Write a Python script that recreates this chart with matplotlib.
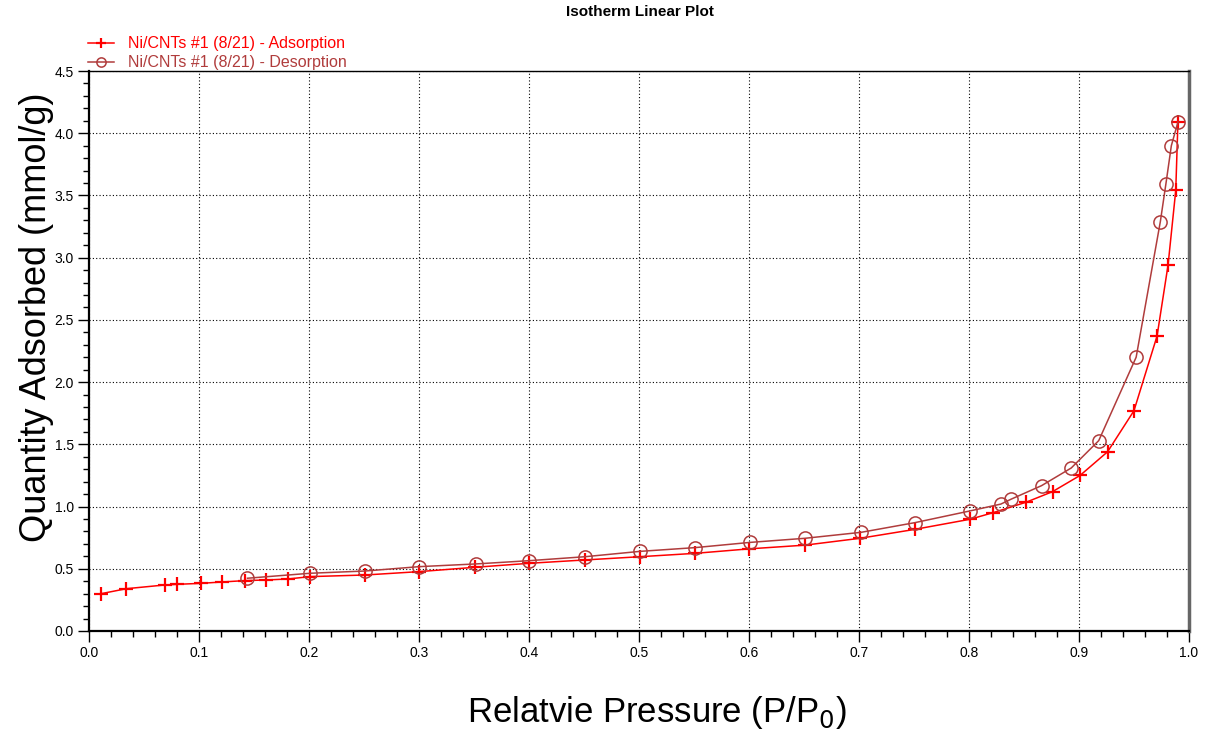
import matplotlib
matplotlib.use('Agg')
import matplotlib.pyplot as plt
from matplotlib.ticker import MultipleLocator, FormatStrFormatter

plt.rcParams['font.family'] = ['Liberation Sans', 'DejaVu Sans']

# adsorption branch (relative pressure, mmol/g)
ads_p = [0.011, 0.034, 0.069, 0.080, 0.102, 0.121, 0.142, 0.161, 0.181, 0.201,
         0.251, 0.300, 0.351, 0.400, 0.451, 0.501, 0.551, 0.600, 0.651, 0.701,
         0.751, 0.801, 0.822, 0.852, 0.876, 0.901, 0.926, 0.950, 0.971, 0.981,
         0.988, 0.990]
ads_q = [0.30, 0.34, 0.37, 0.375, 0.383, 0.394, 0.405, 0.41, 0.418, 0.437,
         0.45, 0.477, 0.512, 0.544, 0.571, 0.597, 0.624, 0.66, 0.69, 0.745,
         0.817, 0.898, 0.951, 1.035, 1.12, 1.25, 1.44, 1.77, 2.37, 2.94,
         3.54, 4.09]

# desorption branch
des_p = [0.990, 0.984, 0.979, 0.974, 0.952, 0.918, 0.893, 0.866, 0.838, 0.829,
         0.801, 0.751, 0.702, 0.651, 0.601, 0.551, 0.501, 0.451, 0.400, 0.352,
         0.300, 0.251, 0.201, 0.144]
des_q = [4.09, 3.90, 3.59, 3.29, 2.20, 1.53, 1.31, 1.168, 1.058, 1.02,
         0.965, 0.871, 0.793, 0.745, 0.712, 0.67, 0.64, 0.597, 0.565, 0.539,
         0.517, 0.482, 0.464, 0.424]

ads_label = 'Ni/CNTs #1 (8/21) - Adsorption'
des_label = 'Ni/CNTs #1 (8/21) - Desorption'
ads_color = '#ff0000'
des_color = '#b03c3c'

fig = plt.figure(figsize=(12.1, 7.42), dpi=100)
ax = fig.add_axes([0.0736, 0.1496, 0.909, 0.7547])

ax.plot(ads_p, ads_q, color=ads_color, lw=1.1, marker='+', ms=10, mew=1.6,
        label=ads_label)
ax.plot(des_p, des_q, color=des_color, lw=1.1, marker='o', ms=9.5, mfc='none',
        mew=1.1, label=des_label)

ax.set_xlim(0, 1.0)
ax.set_ylim(0, 4.5)
ax.xaxis.set_major_locator(MultipleLocator(0.1))
ax.xaxis.set_minor_locator(MultipleLocator(0.02))
ax.yaxis.set_major_locator(MultipleLocator(0.5))
ax.yaxis.set_minor_locator(MultipleLocator(0.1))
ax.xaxis.set_major_formatter(FormatStrFormatter('%.1f'))
ax.yaxis.set_major_formatter(FormatStrFormatter('%.1f'))
ax.tick_params(which='major', length=8, width=1, labelsize=10, direction='out', pad=3)
ax.tick_params(which='minor', length=4, width=1, direction='out')
ax.grid(True, which='major', color='black', ls=(0, (1, 2)), lw=0.8)

for s in ['left', 'bottom']:
    ax.spines[s].set_linewidth(1.6)
ax.spines['top'].set_linewidth(1.0)
ax.spines['right'].set_linewidth(2.5)
ax.spines['right'].set_color('#666666')

ax.set_xlabel('Relatvie Pressure (P/P$_0$)', fontsize=25)
ax.xaxis.set_label_coords(0.516, -0.112)
ax.set_ylabel('Quantity Adsorbed (mmol/g)', fontsize=26)
ax.yaxis.set_label_coords(-0.032, 0.56)

fig.suptitle('Isotherm Linear Plot', fontsize=11, fontweight='bold', x=0.529, y=0.993)

leg = fig.legend(loc='upper left', bbox_to_anchor=(0.0727, 0.951), frameon=False,
                 fontsize=11.5, handlelength=1.6, handletextpad=0.9, markerscale=0.7,
                 labelspacing=0.25, borderaxespad=0.0, borderpad=0.0)
for t, c in zip(leg.get_texts(), [ads_color, des_color]):
    t.set_color(c)

fig.savefig('out.png', dpi=100)
